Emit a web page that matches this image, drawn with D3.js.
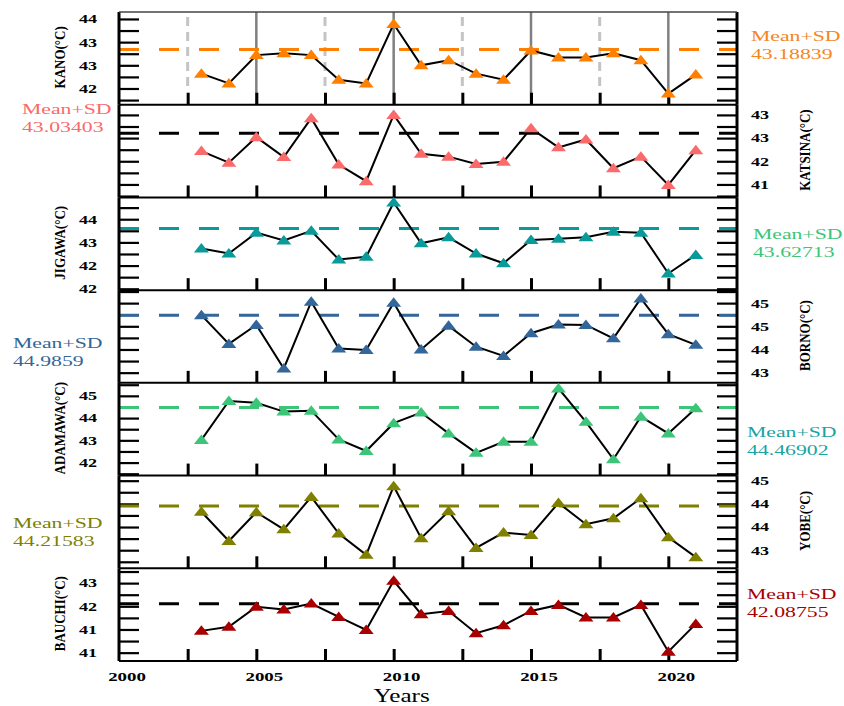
<!DOCTYPE html>
<html>
<head>
<meta charset="utf-8">
<script src="https://cdn.jsdelivr.net/npm/d3@7"></script>
<style>
  body { margin: 0; background: #fff; }
  text { font-family: "Liberation Serif", "Times New Roman", serif; }
</style>
</head>
<body>
<div id="chart"></div>
<script>
// ---- data ----
const years = [2003, 2004, 2005, 2006, 2007, 2008, 2009, 2010, 2011, 2012,
               2013, 2014, 2015, 2016, 2017, 2018, 2019, 2020, 2021];

const kano    = [42.67, 42.46, 43.07, 43.11, 43.07, 42.54, 42.46, 43.74, 42.85, 42.96,
                 42.67, 42.54, 43.17, 43.02, 43.02, 43.11, 42.96, 42.24, 42.65];
const katsina = [42.65, 42.40, 42.95, 42.52, 43.36, 42.36, 42.00, 43.43, 42.59, 42.53,
                 42.37, 42.42, 43.14, 42.73, 42.90, 42.28, 42.53, 41.92, 42.67];
const jigawa  = [43.20, 43.09, 43.54, 43.37, 43.58, 42.96, 43.02, 44.19, 43.31, 43.44,
                 43.09, 42.88, 43.38, 43.41, 43.44, 43.56, 43.54, 42.66, 43.06];
const borno   = [44.99, 44.37, 44.78, 43.84, 45.28, 44.27, 44.24, 45.26, 44.25, 44.76,
                 44.31, 44.11, 44.60, 44.79, 44.78, 44.49, 45.35, 44.58, 44.35];
const adamawa = [43.77, 44.61, 44.57, 44.38, 44.40, 43.78, 43.53, 44.13, 44.36, 43.91,
                 43.49, 43.73, 43.73, 44.88, 44.16, 43.35, 44.27, 43.91, 44.45];
const yobe    = [44.09, 43.46, 44.08, 43.71, 44.41, 43.62, 43.16, 44.64, 43.52, 44.10,
                 43.31, 43.64, 43.59, 44.28, 43.82, 43.95, 44.38, 43.54, 43.11];
const bauchi  = [41.50, 41.59, 42.02, 41.96, 42.09, 41.80, 41.52, 42.58, 41.86, 41.93,
                 41.45, 41.62, 41.93, 42.06, 41.79, 41.79, 42.06, 41.05, 41.65];

const stations = ["KANO", "KATSINA", "JIGAWA", "BORNO", "ADAMAWA", "YOBE", "BAUCHI"];
const series = [kano, katsina, jigawa, borno, adamawa, yobe, bauchi];
const meanSD = [43.18839, 43.03403, 43.62713, 44.9859, 44.46902, 44.21583, 42.08755];
const meanLabels = ["43.18839", "43.03403", "43.62713", "44.9859", "44.46902", "44.21583", "42.08755"];

// y axis of each panel: range shown, labelled tick values and their printed labels
const yDomains = [[42, 44], [41.65, 43.65], [42.3, 44.3], [43.53, 45.53],
                  [43, 45], [42.87, 44.87], [40.85, 42.85]];
const yTickValues = [[43.85, 43.35, 42.85, 42.35], [43.43, 42.93, 42.43, 41.93],
                     [43.83, 43.33, 42.83, 42.33], [45.25, 44.75, 44.25, 43.75],
                     [44.72, 44.24, 43.76, 43.28], [44.76, 44.26, 43.76, 43.26],
                     [42.53, 42.03, 41.53, 41.03]];
const yTickLabels = [["44", "43", "43", "42"], ["43", "43", "42", "41"],
                     ["44", "43", "42", "42"], ["45", "45", "44", "43"],
                     ["45", "44", "43", "42"], ["45", "44", "44", "43"],
                     ["43", "42", "41", "41"]];

const xTickValues = [2000, 2005, 2010, 2015, 2020];
const xInnerTicks = [2002.5, 2005, 2007.5, 2010, 2012.5, 2015, 2017.5, 2020];

// ---- styles / layout ----
const markerColors = ["#ff8000", "#fa6a6a", "#0a9a9a", "#336699", "#3cc478", "#7f7f00", "#a80000"];
const meanLineColors = ["#ff8000", "#000000", "#0a9a9a", "#336699", "#3cc478", "#7f7f00", "#000000"];
const meanTextColors = ["#f5861c", "#fa6a6a", "#3cc478", "#336699", "#1aa3a3", "#7f7f00", "#a80000"];
const meanTextX = [751, 22, 753, 13, 747, 13, 747];
const meanTextY = [36, 109, 234, 343, 432, 523, 594];

const W = 844, H = 706;
const margin = { top: 12, right: 107, bottom: 45, left: 119 };
const width = W - margin.left - margin.right;
const panelH = (H - margin.top - margin.bottom) / stations.length;
const SX = 1.45; // horizontal stretch of the original figure

const svg = d3.select("#chart").append("svg")
  .attr("width", W)
  .attr("height", H);

const x = d3.scaleLinear().domain([2000, 2022.5]).range([0, width]);

const tri = "M0,-5.5L7.5,4L-7.5,4Z";

series.forEach((values, i) => {
  const g = svg.append("g")
    .attr("transform", `translate(${margin.left},${margin.top + i * panelH})`);
  const y = d3.scaleLinear().domain(yDomains[i]).range([panelH, 0]);
  const labelsLeft = i % 2 === 0;

  // grid lines only in the first panel
  if (i === 0) {
    g.selectAll(".grid")
      .data(xInnerTicks)
      .join("line")
      .attr("x1", d => x(d)).attr("x2", d => x(d))
      .attr("y1", d => d % 5 === 0 ? 0 : 5)
      .attr("y2", d => d % 5 === 0 ? panelH : panelH - 16)
      .attr("stroke", d => d % 5 === 0 ? "#808080" : "#c4c4c4")
      .attr("stroke-width", d => d % 5 === 0 ? 2.5 : 3)
      .attr("stroke-dasharray", d => d % 5 === 0 ? null : "9,6");
  }

  // inward y ticks on both sides
  const majors = yTickValues[i];
  const step = majors[0] - majors[1];
  const dom = yDomains[i];
  const ticks = majors.concat(majors.map(v => v - step / 2), [majors[0] + step / 2])
    .filter(v => v >= dom[0] - 0.01 && v <= dom[1] + 0.01);

  const leftTicks = g.append("g")
    .call(d3.axisRight(y).tickValues(ticks).tickSize(20).tickFormat(""));
  const rightTicks = g.append("g")
    .attr("transform", `translate(${width},0)`)
    .call(d3.axisLeft(y).tickValues(ticks).tickSize(20).tickFormat(""));
  [leftTicks, rightTicks].forEach(a => {
    a.select(".domain").remove();
    a.selectAll("line").attr("stroke", "#000").attr("stroke-width", 2.2);
  });

  // inward x ticks at the bottom of each panel
  const xt = g.append("g")
    .attr("transform", `translate(0,${panelH})`)
    .call(d3.axisTop(x).tickValues(xInnerTicks).tickSize(12).tickFormat(""));
  xt.select(".domain").remove();
  xt.selectAll("line").attr("stroke", "#000").attr("stroke-width", 3);

  // mean + SD line
  g.append("line")
    .attr("x1", 0).attr("x2", width)
    .attr("y1", y(meanSD[i])).attr("y2", y(meanSD[i]))
    .attr("stroke", meanLineColors[i])
    .attr("stroke-width", 3)
    .attr("stroke-dasharray", "20,20");

  // series line
  const line = d3.line()
    .x((d, j) => x(years[j]))
    .y(d => y(d));
  g.append("path")
    .datum(values)
    .attr("fill", "none")
    .attr("stroke", "#000")
    .attr("stroke-width", 2)
    .attr("d", line);

  // triangle markers
  g.selectAll(".dot")
    .data(values)
    .join("path")
    .attr("class", "dot")
    .attr("d", tri)
    .attr("transform", (d, j) => `translate(${x(years[j])},${y(d)})`)
    .attr("fill", markerColors[i]);

  // y tick labels
  g.selectAll(".ylab")
    .data(majors)
    .join("text")
    .attr("class", "ylab")
    .attr("transform", d => `translate(${labelsLeft ? -22 : width + 14},${y(d)}) scale(${SX},1)`)
    .attr("text-anchor", labelsLeft ? "end" : "start")
    .attr("dy", "0.35em")
    .attr("font-size", 12.5)
    .attr("font-weight", "bold")
    .text((d, j) => yTickLabels[i][j]);

  // y axis title
  g.append("text")
    .attr("transform", `translate(${labelsLeft ? -59 : width + 68},${panelH / 2 - 1}) scale(1.2,1) rotate(-90)`)
    .attr("text-anchor", "middle")
    .attr("dy", "0.35em")
    .attr("font-size", 13)
    .attr("font-weight", "bold")
    .text(`${stations[i]}(°C)`);

  // frame
  g.append("line").attr("x1", 0).attr("x2", 0).attr("y1", 0).attr("y2", panelH)
    .attr("stroke", "#000").attr("stroke-width", 3);
  g.append("line").attr("x1", width).attr("x2", width).attr("y1", 0).attr("y2", panelH)
    .attr("stroke", "#000").attr("stroke-width", 3);
  g.append("line").attr("x1", 0).attr("x2", width).attr("y1", panelH).attr("y2", panelH)
    .attr("stroke", "#000").attr("stroke-width", 2);
  if (i === 0) {
    g.append("line").attr("x1", 0).attr("x2", width).attr("y1", 0).attr("y2", 0)
      .attr("stroke", "#444").attr("stroke-width", 1.5);
  }

  // Mean+SD annotation
  const t = svg.append("g")
    .attr("transform", `translate(${meanTextX[i]},${meanTextY[i]}) scale(${SX},1)`)
    .attr("fill", meanTextColors[i])
    .attr("font-size", 15);
  t.append("text").attr("dy", "0.35em").text("Mean+SD");
  t.append("text").attr("y", 17.5).attr("dy", "0.35em").text(meanLabels[i]);
});

// x axis labels under the last panel
const bottomY = margin.top + stations.length * panelH;
svg.append("g")
  .selectAll("text")
  .data(xTickValues)
  .join("text")
  .attr("transform", d => `translate(${margin.left + x(d) + 8},${bottomY + 15}) scale(${SX},1)`)
  .attr("text-anchor", "middle")
  .attr("dy", "0.35em")
  .attr("font-size", 13)
  .attr("font-weight", "bold")
  .text(d => d);

svg.append("text")
  .attr("transform", `translate(${margin.left + x(2010) + 8},${H - 4}) scale(1.4,1)`)
  .attr("text-anchor", "middle")
  .attr("font-size", 18)
  .text("Years");
</script>
</body>
</html>
